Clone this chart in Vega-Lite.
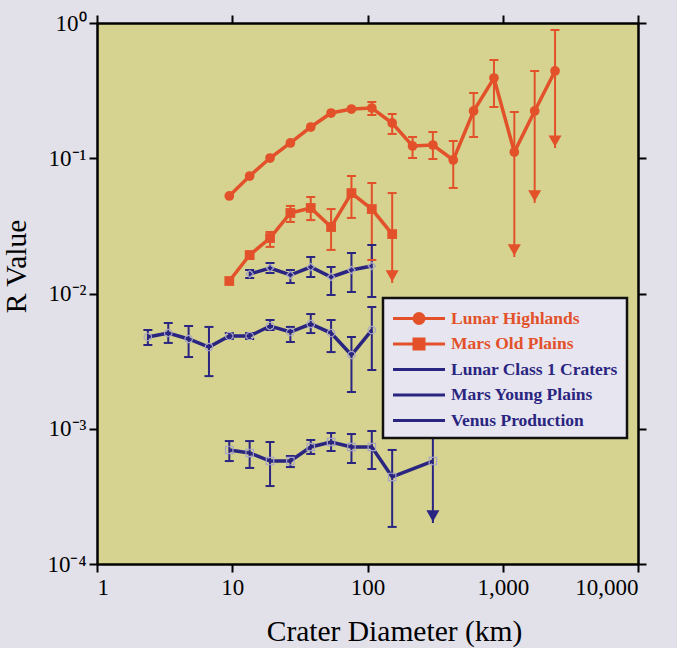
{
  "$schema": "https://vega.github.io/schema/vega-lite/v6.json",
  "width": 541,
  "height": 541,
  "autosize": {"type": "none"},
  "padding": {"left": 97, "top": 23, "right": 39, "bottom": 84},
  "background": "#e2e1e9",
  "config": {
    "view": {"fill": "#d5d38f", "stroke": null},
    "font": "Liberation Serif",
    "axis": {
      "domainColor": "#000000", "domainWidth": 2.5,
      "tickColor": "#000000", "tickWidth": 2, "tickSize": 8,
      "grid": false,
      "labelFont": "Liberation Serif", "labelFontSize": 23, "labelColor": "#000000",
      "titleFont": "Liberation Serif", "titleFontSize": 29.5, "titleFontWeight": "normal", "titleColor": "#000000"
    }
  },
  "datasets": {
    "pts": [
      {"g": "Lunar Highlands", "d": 9.51, "r": 0.0526},
      {"g": "Lunar Highlands", "d": 13.45, "r": 0.0739},
      {"g": "Lunar Highlands", "d": 19.03, "r": 0.1004},
      {"g": "Lunar Highlands", "d": 26.9, "r": 0.1297},
      {"g": "Lunar Highlands", "d": 38.05, "r": 0.1702},
      {"g": "Lunar Highlands", "d": 53.8, "r": 0.216},
      {"g": "Lunar Highlands", "d": 76.1, "r": 0.2312},
      {"g": "Lunar Highlands", "d": 107.6, "r": 0.2352, "lo": 0.2089, "hi": 0.2606},
      {"g": "Lunar Highlands", "d": 152.2, "r": 0.1823, "lo": 0.1512, "hi": 0.2125},
      {"g": "Lunar Highlands", "d": 215.3, "r": 0.1232, "lo": 0.1004, "hi": 0.1436},
      {"g": "Lunar Highlands", "d": 304.4, "r": 0.1253, "lo": 0.0987, "hi": 0.1563},
      {"g": "Lunar Highlands", "d": 430.5, "r": 0.0971, "lo": 0.0603, "hi": 0.1341},
      {"g": "Lunar Highlands", "d": 608.9, "r": 0.2236, "lo": 0.1436, "hi": 0.3037},
      {"g": "Lunar Highlands", "d": 861, "r": 0.392, "lo": 0.2393, "hi": 0.5326},
      {"g": "Lunar Highlands", "d": 1217.9, "r": 0.1112, "lo": 0.01862, "hi": 0.2198, "up": true},
      {"g": "Lunar Highlands", "d": 1722, "r": 0.2236, "lo": 0.0467, "hi": 0.4417, "up": true},
      {"g": "Lunar Highlands", "d": 2435.5, "r": 0.4417, "lo": 0.119, "hi": 0.888, "up": true},
      {"g": "Mars Old Plains", "d": 9.51, "r": 0.01237},
      {"g": "Mars Old Plains", "d": 13.45, "r": 0.01926, "lo": 0.018, "hi": 0.0203},
      {"g": "Mars Old Plains", "d": 19.03, "r": 0.0257, "lo": 0.0221, "hi": 0.0285},
      {"g": "Mars Old Plains", "d": 26.9, "r": 0.0394, "lo": 0.0338, "hi": 0.0444},
      {"g": "Mars Old Plains", "d": 38.05, "r": 0.0429, "lo": 0.0349, "hi": 0.0517},
      {"g": "Mars Old Plains", "d": 53.8, "r": 0.031, "lo": 0.021, "hi": 0.0421},
      {"g": "Mars Old Plains", "d": 76.1, "r": 0.0553, "lo": 0.0362, "hi": 0.0739},
      {"g": "Mars Old Plains", "d": 107.6, "r": 0.0421, "lo": 0.0177, "hi": 0.0656},
      {"g": "Mars Old Plains", "d": 152.2, "r": 0.0275, "lo": 0.01196, "hi": 0.0553, "up": true},
      {"g": "Lunar Class 1 Craters", "d": 13.45, "r": 0.01394, "lo": 0.01302, "hi": 0.01492},
      {"g": "Lunar Class 1 Craters", "d": 19.03, "r": 0.01544, "lo": 0.01418, "hi": 0.0168},
      {"g": "Lunar Class 1 Craters", "d": 26.9, "r": 0.0137, "lo": 0.01196, "hi": 0.01492},
      {"g": "Lunar Class 1 Craters", "d": 38.05, "r": 0.0157, "lo": 0.01324, "hi": 0.01862},
      {"g": "Lunar Class 1 Craters", "d": 53.8, "r": 0.01324, "lo": 0.00975, "hi": 0.0157},
      {"g": "Lunar Class 1 Craters", "d": 76.1, "r": 0.01492, "lo": 0.01026, "hi": 0.01993},
      {"g": "Lunar Class 1 Craters", "d": 107.6, "r": 0.01597, "lo": 0.00942, "hi": 0.02284},
      {"g": "Mars Young Plains", "d": 2.378, "r": 0.00477, "lo": 0.00416, "hi": 0.00537},
      {"g": "Mars Young Plains", "d": 3.364, "r": 0.0051, "lo": 0.00431, "hi": 0.00605},
      {"g": "Mars Young Plains", "d": 4.757, "r": 0.00461, "lo": 0.00339, "hi": 0.00575},
      {"g": "Mars Young Plains", "d": 6.727, "r": 0.00402, "lo": 0.00245, "hi": 0.00566},
      {"g": "Mars Young Plains", "d": 9.51, "r": 0.00485, "lo": 0.00461, "hi": 0.0051},
      {"g": "Mars Young Plains", "d": 13.45, "r": 0.00485, "lo": 0.00461, "hi": 0.0051},
      {"g": "Mars Young Plains", "d": 19.03, "r": 0.00575, "lo": 0.00537, "hi": 0.00637},
      {"g": "Mars Young Plains", "d": 26.9, "r": 0.00519, "lo": 0.00438, "hi": 0.00566},
      {"g": "Mars Young Plains", "d": 38.05, "r": 0.00595, "lo": 0.0051, "hi": 0.00705},
      {"g": "Mars Young Plains", "d": 53.8, "r": 0.0051, "lo": 0.00369, "hi": 0.00637},
      {"g": "Mars Young Plains", "d": 76.1, "r": 0.00351, "lo": 0.00187, "hi": 0.00477},
      {"g": "Mars Young Plains", "d": 107.6, "r": 0.00537, "lo": 0.00272, "hi": 0.00795},
      {"g": "Venus Production", "d": 9.51, "r": 0.000697, "lo": 0.000577, "hi": 0.000811},
      {"g": "Venus Production", "d": 13.45, "r": 0.000662, "lo": 0.000513, "hi": 0.000811},
      {"g": "Venus Production", "d": 19.03, "r": 0.000577, "lo": 0.000377, "hi": 0.000798},
      {"g": "Venus Production", "d": 26.9, "r": 0.000577, "lo": 0.000521, "hi": 0.000629},
      {"g": "Venus Production", "d": 38.05, "r": 0.000733, "lo": 0.000651, "hi": 0.000826},
      {"g": "Venus Production", "d": 53.8, "r": 0.000798, "lo": 0.000685, "hi": 0.00093},
      {"g": "Venus Production", "d": 76.1, "r": 0.000733, "lo": 0.000558, "hi": 0.000914},
      {"g": "Venus Production", "d": 107.6, "r": 0.000733, "lo": 0.000504, "hi": 0.000962},
      {"g": "Venus Production", "d": 152.2, "r": 0.00044, "lo": 0.000188, "hi": 0.000697},
      {"g": "Venus Production", "d": 304.4, "r": 0.000577, "lo": 0.000201, "hi": 0.00116, "up": true}
    ]
  },
  "data": {"name": "pts"},
  "resolve": {"axis": {"x": "independent", "y": "independent"}},
  "layer": [
    {
      "mark": {"type": "line", "strokeWidth": 3.5},
      "encoding": {
        "x": {
          "field": "d", "type": "quantitative",
          "scale": {"type": "log", "domain": [1, 10000], "nice": false},
          "axis": {"orient": "bottom", "values": [1, 10, 100, 1000, 10000], "format": ",", "title": "Crater Diameter (km)", "titlePadding": 18, "titleX": 297, "labelPadding": 4}
        },
        "y": {
          "field": "r", "type": "quantitative",
          "scale": {"type": "log", "domain": [0.0001, 1], "nice": false},
          "axis": {
            "orient": "left", "values": [0.0001, 0.001, 0.01, 0.1, 1],
            "labelExpr": "datum.value > 0.5 ? '10⁰' : datum.value > 0.05 ? '10⁻¹' : datum.value > 0.005 ? '10⁻²' : datum.value > 0.0005 ? '10⁻³' : '10⁻⁴'",
            "title": "R Value", "titlePadding": 15, "titleY": 243, "labelPadding": 3
          }
        },
        "color": {
          "field": "g", "type": "nominal",
          "scale": {
            "domain": ["Lunar Highlands", "Mars Old Plains", "Lunar Class 1 Craters", "Mars Young Plains", "Venus Production"],
            "range": ["#e3512b", "#e3512b", "#2a2580", "#2a2580", "#2a2580"]
          },
          "legend": {
            "orient": "none", "legendX": 286, "legendY": 275,
            "title": null,
            "fillColor": "#e7e6f0", "strokeColor": "#111111",
            "padding": 9,
            "gridAlign": "all",
            "labelFont": "Liberation Serif", "labelFontSize": 17.5, "labelFontWeight": "bold", "labelLimit": 0,
            "symbolSize": 400, "symbolStrokeWidth": 3,
            "labelOffset": 36, "rowPadding": 2.5,
            "encode": {
              "legend": {"update": {"strokeWidth": {"value": 2.5}}},
              "symbols": {"update": {
                "shape": {"signal": "datum.value === 'Lunar Highlands' ? 'M-1.05,0H4.15M2.05,0A0.5,0.5,0,1,1,1.05,0A0.5,0.5,0,1,1,2.05,0Z' : datum.value === 'Mars Old Plains' ? 'M-1.05,0H4.15M1.05,-0.5H2.05V0.5H1.05Z' : 'M-1.05,0H4.15'"},
                "fill": {"signal": "indexof(['Lunar Highlands','Mars Old Plains'], datum.value) >= 0 ? '#e3512b' : 'transparent'"}
              }},
              "labels": {"update": {
                "fill": {"signal": "indexof(['Lunar Highlands','Mars Old Plains'], datum.value) >= 0 ? '#e3512b' : '#2a2580'"}
              }}
            }
          }
        }
      }
    },
    {
      "transform": [{"filter": "isValid(datum.lo)"}],
      "mark": {"type": "rule", "strokeWidth": 2},
      "encoding": {
        "x": {"field": "d", "type": "quantitative", "axis": {"orient": "top", "values": [1, 10, 100, 1000, 10000], "labels": false, "title": null}},
        "y": {"field": "lo", "type": "quantitative", "axis": {"orient": "right", "values": [0.0001, 0.001, 0.01, 0.1, 1], "labels": false, "title": null}},
        "y2": {"field": "hi"},
        "color": {"field": "g", "type": "nominal", "legend": null}
      }
    },
    {
      "transform": [{"filter": "isValid(datum.lo)"}],
      "mark": {"type": "tick", "orient": "horizontal", "size": 9, "thickness": 2, "opacity": 1},
      "encoding": {
        "x": {"field": "d", "type": "quantitative", "axis": null},
        "y": {"field": "hi", "type": "quantitative", "axis": null},
        "color": {"field": "g", "type": "nominal", "legend": null}
      }
    },
    {
      "transform": [{"filter": "isValid(datum.lo) && !datum.up"}],
      "mark": {"type": "tick", "orient": "horizontal", "size": 9, "thickness": 2, "opacity": 1},
      "encoding": {
        "x": {"field": "d", "type": "quantitative", "axis": null},
        "y": {"field": "lo", "type": "quantitative", "axis": null},
        "color": {"field": "g", "type": "nominal", "legend": null}
      }
    },
    {
      "transform": [{"filter": "datum.g === 'Lunar Highlands'"}],
      "mark": {"type": "point", "shape": "circle", "filled": true, "size": 95, "opacity": 1, "color": "#e3512b"},
      "encoding": {
        "x": {"field": "d", "type": "quantitative", "axis": null},
        "y": {"field": "r", "type": "quantitative", "axis": null}
      }
    },
    {
      "transform": [{"filter": "datum.g === 'Mars Old Plains'"}],
      "mark": {"type": "point", "shape": "square", "filled": true, "size": 95, "opacity": 1, "color": "#e3512b"},
      "encoding": {
        "x": {"field": "d", "type": "quantitative", "axis": null},
        "y": {"field": "r", "type": "quantitative", "axis": null}
      }
    },
    {
      "transform": [{"filter": "datum.g === 'Lunar Class 1 Craters'"}],
      "mark": {"type": "point", "shape": "diamond", "filled": false, "size": 55, "color": "#a8a4c8", "strokeWidth": 1.2, "opacity": 1},
      "encoding": {
        "x": {"field": "d", "type": "quantitative", "axis": null},
        "y": {"field": "r", "type": "quantitative", "axis": null}
      }
    },
    {
      "transform": [{"filter": "datum.g === 'Mars Young Plains'"}],
      "mark": {"type": "point", "shape": "circle", "filled": false, "size": 55, "color": "#a8a4c8", "strokeWidth": 1.2, "opacity": 1},
      "encoding": {
        "x": {"field": "d", "type": "quantitative", "axis": null},
        "y": {"field": "r", "type": "quantitative", "axis": null}
      }
    },
    {
      "transform": [{"filter": "datum.g === 'Venus Production'"}],
      "mark": {"type": "point", "shape": "square", "filled": false, "size": 55, "color": "#a8a4c8", "strokeWidth": 1.2, "opacity": 1},
      "encoding": {
        "x": {"field": "d", "type": "quantitative", "axis": null},
        "y": {"field": "r", "type": "quantitative", "axis": null}
      }
    },
    {
      "transform": [{"filter": "datum.up === true"}],
      "mark": {"type": "point", "shape": "triangle-down", "filled": true, "size": 170, "yOffset": -7, "opacity": 1},
      "encoding": {
        "x": {"field": "d", "type": "quantitative", "axis": null},
        "y": {"field": "lo", "type": "quantitative", "axis": null},
        "color": {"field": "g", "type": "nominal", "legend": null}
      }
    }
  ]
}
